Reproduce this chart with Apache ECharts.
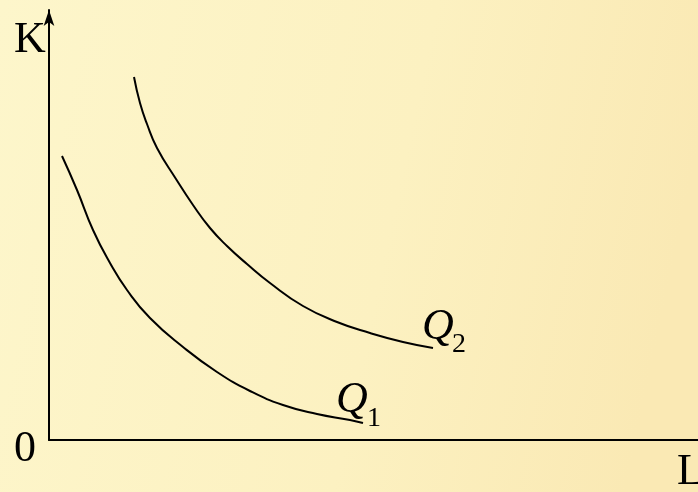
<!DOCTYPE html>
<html>
<head>
<meta charset="utf-8">
<script src="https://cdn.jsdelivr.net/npm/echarts@6/dist/echarts.min.js"></script>
<style>
  html, body { margin: 0; padding: 0; }
  #chart { width: 698px; height: 492px; }
</style>
</head>
<body>
<div id="chart"></div>
<script>
  // isoquant points: [L, K]
  const q1Points = [
    [13, 284], [28, 250], [44, 210], [61, 177], [78, 150], [101, 122], [134, 93],
    [168, 68], [201, 49], [234, 35], [268, 26], [301, 20], [314, 17]
  ]
  const q2Points = [
    [85, 363], [91, 337], [98, 316], [108, 292], [127, 261], [144, 235], [161, 212],
    [178, 194], [198, 176], [221, 157], [254, 134], [288, 118], [321, 107], [354, 98], [384, 92]
  ]
  const curveNames = ['1', '2']
  const axisNames = ['L', 'K', '0']

  const chart = echarts.init(document.getElementById('chart'))

  const serif = '"Liberation Serif", "DejaVu Serif", serif'

  // Q and its subscript hang off the last point of each curve
  function curve(data, sub, qOffset, subOffset) {
    const end = data[data.length - 1]
    return {
      type: 'line',
      data: data,
      smooth: 0.5,
      showSymbol: false,
      silent: true,
      lineStyle: { color: '#000', width: 2 },
      markPoint: {
        silent: true,
        symbol: 'circle',
        symbolSize: 0,
        data: [
          {
            coord: end,
            label: {
              show: true, formatter: 'Q', offset: qOffset,
              fontFamily: serif, fontStyle: 'italic', fontSize: 44, color: '#000'
            }
          },
          {
            coord: end,
            label: {
              show: true, formatter: sub, offset: subOffset,
              fontFamily: serif, fontSize: 28, color: '#000'
            }
          }
        ]
      }
    }
  }

  const option = {
    animation: false,
    backgroundColor: {
      type: 'linear', x: 0, y: 0, x2: 1, y2: 0.3,
      colorStops: [
        { offset: 0, color: '#fdf6cb' },
        { offset: 0.6, color: '#fcf1c1' },
        { offset: 1, color: '#fae9b4' }
      ]
    },
    grid: { left: 49, right: 0, top: 10, bottom: 52 },
    xAxis: {
      type: 'value', min: 0, max: 649,
      axisLine: { lineStyle: { color: '#000', width: 2 } },
      axisTick: { show: false }, axisLabel: { show: false }, splitLine: { show: false }
    },
    yAxis: {
      type: 'value', min: 0, max: 430,
      axisLine: {
        show: true, symbol: ['none', 'arrow'], symbolSize: [8, 16],
        lineStyle: { color: '#000', width: 2 }
      },
      axisTick: { show: false }, axisLabel: { show: false }, splitLine: { show: false }
    },
    graphic: [
      { type: 'text', left: 14, top: 18, style: { text: axisNames[1], font: '44px ' + serif, fill: '#000' } },
      { type: 'text', left: 14, top: 427, style: { text: axisNames[2], font: '44px ' + serif, fill: '#000' } },
      { type: 'text', left: 677, top: 450, style: { text: axisNames[0], font: '44px ' + serif, fill: '#000' } }
    ],
    series: [
      curve(q1Points, curveNames[0], [-11, -23], [11, -4]),
      curve(q2Points, curveNames[1], [5, -21], [26, -3])
    ]
  }

  chart.setOption(option)
</script>
</body>
</html>
